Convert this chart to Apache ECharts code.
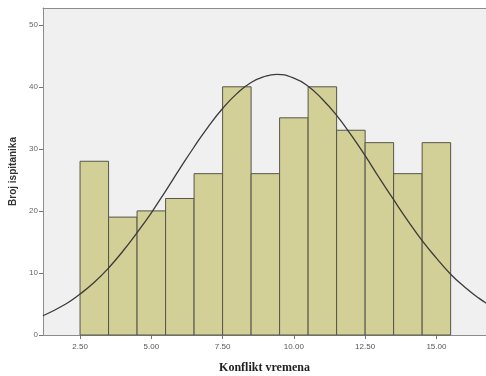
<!DOCTYPE html>
<html>
<head>
<meta charset="utf-8">
<script src="https://cdn.jsdelivr.net/npm/echarts@6/dist/echarts.min.js"></script>
<style>html,body{margin:0;padding:0;background:#fff}#c{width:486px;height:376px}</style>
</head>
<body>
<div id="c"></div>
<script>
// bin centres (bin width 1) and counts
const binCenters = [3, 4, 5, 6, 7, 8, 9, 10, 11, 12, 13, 14, 15];
const counts = [28, 19, 20, 22, 26, 40, 26, 35, 40, 33, 31, 26, 31];
// normal curve, values
const curveX = [1.2, 2, 2.5, 3, 3.5, 4, 4.5, 5, 5.5, 6, 6.5, 7, 7.5, 8, 8.5, 9, 9.4, 10, 10.5, 11, 11.5, 12, 12.5, 13, 13.5, 14, 14.5, 15, 15.5, 16, 16.5, 16.8];
const curveY = [3.1, 5.0, 6.6, 8.5, 10.8, 13.5, 16.5, 19.7, 23.2, 26.8, 30.3, 33.6, 36.5, 38.9, 40.7, 41.7, 42.0, 41.4, 40.1, 38.0, 35.4, 32.3, 28.9, 25.3, 21.8, 18.4, 15.2, 12.4, 9.8, 7.7, 5.9, 5.0];
const xTicks = [2.5, 5, 7.5, 10, 12.5, 15];
const yTicks = [0, 10, 20, 30, 40, 50];

const chart = echarts.init(document.getElementById('c'));
chart.setOption({
  animation: false,
  grid: {left: 43, top: 8, right: 0, bottom: 41, outerBoundsMode: 'none', containLabel: false, show: true, backgroundColor: '#f0f0f0', borderWidth: 0},
  xAxis: [{
    type: 'value', min: 1.2, max: 16.74,
    name: 'Konflikt vremena', nameLocation: 'middle', nameGap: 27,
    nameTextStyle: {fontFamily: 'Liberation Serif', fontWeight: 'bold', fontSize: 12, color: '#222'},
    axisLine: {show: true, onZero: false, lineStyle: {color: '#8c8c8c'}},
    axisTick: {show: true, length: 4, customValues: xTicks, lineStyle: {color: '#777'}},
    axisLabel: {customValues: xTicks, fontSize: 8, color: '#555', fontFamily: 'Liberation Sans', margin: 8, formatter: v => v.toFixed(2)},
    splitLine: {show: false}
  }, {
    type: 'value', position: 'top', min: 1.2, max: 16.74,
    axisLine: {show: true, onZero: false, lineStyle: {color: '#8c8c8c'}},
    axisTick: {show: false}, axisLabel: {show: false}, splitLine: {show: false}
  }],
  yAxis: {
    type: 'value', min: 0, max: 52.7,
    name: 'Broj ispitanika', nameLocation: 'middle', nameGap: 25,
    nameTextStyle: {fontFamily: 'Liberation Sans', fontWeight: 'bold', fontSize: 10, color: '#333'},
    axisLine: {show: true, lineStyle: {color: '#8c8c8c'}},
    axisTick: {show: true, length: 4, customValues: yTicks, lineStyle: {color: '#777'}},
    axisLabel: {customValues: yTicks, fontSize: 8, color: '#666', fontFamily: 'Liberation Sans', margin: 5},
    splitLine: {show: false}
  },
  series: [
    {
      type: 'custom',
      data: binCenters.map((c, i) => [c, counts[i]]),
      renderItem: function (params, api) {
        const x = api.value(0), y = api.value(1);
        const p1 = api.coord([x - 0.5, y]);
        const p2 = api.coord([x + 0.5, 0]);
        return {
          type: 'rect',
          shape: {x: p1[0], y: p1[1], width: p2[0] - p1[0], height: p2[1] - p1[1]},
          style: {fill: '#d3d097', stroke: '#55554a', lineWidth: 1}
        };
      },
      z: 2
    },
    {
      type: 'line', smooth: true, symbol: 'none', clip: true,
      data: curveX.map((x, i) => [x, curveY[i]]),
      lineStyle: {color: '#3a3a3a', width: 1.3},
      z: 3
    }
  ]
});
</script>
</body>
</html>
